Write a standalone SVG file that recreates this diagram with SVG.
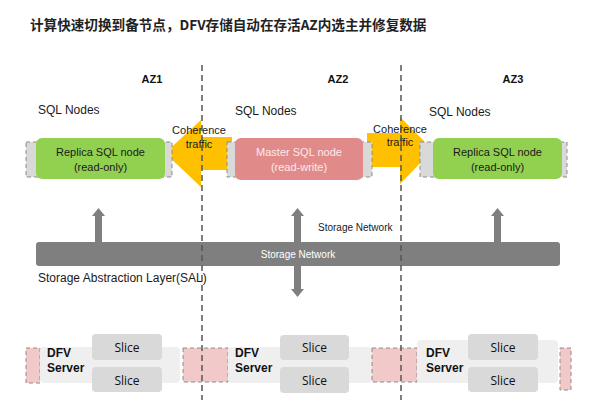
<svg xmlns="http://www.w3.org/2000/svg" width="600" height="400" viewBox="0 0 600 400">
<style>
.t{font-family:"Liberation Sans",Arial,sans-serif;fill:#1a1a1a}
.az{font-family:"Liberation Sans",Arial,sans-serif;font-weight:bold;font-size:11px;fill:#111;text-anchor:middle}
.sql{font-size:12px}
.nodet{font-size:11px;text-anchor:middle}
.coh{font-size:11px;text-anchor:middle}
.bk{fill:#d9d9d9;stroke:#8c8c8c;stroke-width:1;stroke-dasharray:4 3}
.pk{fill:#f2c9c9;stroke:#8c8c8c;stroke-width:1;stroke-dasharray:4 3}
.green{fill:#92d050}
.pnl{fill:#efefef}
.slice{fill:#d9d9d9}
.st{font-family:"Open Sans","Liberation Sans",sans-serif;font-size:12px;fill:#111;text-anchor:middle}
.dfv{font-family:"Liberation Sans",Arial,sans-serif;font-size:12px;font-weight:bold;fill:#111}
.yel{fill:#ffc000}
.gar{fill:#7f7f7f}
.vd{stroke:#555;stroke-width:1.5;stroke-dasharray:6 4;fill:none}
</style>
<rect width="600" height="400" fill="#fff"/>
<text x="30" y="30" font-family="'Noto Sans CJK SC','Liberation Sans',sans-serif" font-weight="bold" font-size="13.6" fill="#222">计算快速切换到备节点，DFV存储自动在存活AZ内选主并修复数据</text>

<text class="az" x="152" y="83">AZ1</text>
<text class="az" x="338" y="83">AZ2</text>
<text class="az" x="513" y="83">AZ3</text>

<text class="t sql" x="38" y="114">SQL Nodes</text>
<text class="t sql" x="235" y="115">SQL Nodes</text>
<text class="t sql" x="429" y="116">SQL Nodes</text>

<g id="connectors">
  <polygon class="yel" points="165,153 201,120 201,137 232,137 232,170 201,170 201,187"/>
  <polygon class="yel" points="367,133 400,133 400,117 433,150 400,184 400,167 367,167"/>
  <text class="t coh" x="199" y="134">Coherence</text>
  <text class="t coh" x="199" y="148">traffic</text>
  <text class="t coh" x="400" y="133">Coherence</text>
  <text class="t coh" x="400" y="146">traffic</text>
  <polygon class="gar" points="98.5,208 105,216 102,216 102,243 95,243 95,216 92,216"/>
  <polygon class="gar" points="497.5,208 504,216 501,216 501,243 494,243 494,216 491,216"/>
  <polygon class="gar" points="297.5,208 304,216 301,216 301,289 304,289 297.5,297 291,289 294,289 294,216 291,216"/>
</g>

<g id="replica1">
  <rect class="bk" x="26" y="142" width="146" height="35"/>
  <rect class="green" x="36" y="138" width="129" height="41" rx="6"/>
  <text class="t nodet" x="100.5" y="156">Replica SQL node</text>
  <text class="t nodet" x="100.5" y="171">(read-only)</text>
</g>
<g id="master">
  <rect class="bk" x="227" y="142" width="145" height="35"/>
  <rect x="235" y="138" width="128" height="42" rx="6" fill="#e08a8a"/>
  <text class="nodet" x="299" y="156" font-family="'Liberation Sans',Arial,sans-serif" fill="#fbeaea">Master SQL node</text>
  <text class="nodet" x="299" y="171" font-family="'Liberation Sans',Arial,sans-serif" fill="#fbeaea">(read-write)</text>
</g>
<g id="replica3">
  <rect class="bk" x="420" y="142" width="147" height="35"/>
  <rect class="green" x="433" y="138" width="129" height="41" rx="6"/>
  <text class="t nodet" x="497.5" y="156">Replica SQL node</text>
  <text class="t nodet" x="497.5" y="171">(read-only)</text>
</g>

<g id="storage-network">
  <rect class="gar" x="36" y="242" width="524" height="24" rx="3"/>
  <rect class="gar" x="294" y="240" width="7" height="28"/>
  <text x="298" y="258" font-family="'Liberation Sans',Arial,sans-serif" font-size="10" fill="#fff" text-anchor="middle">Storage Network</text>
</g>
<text class="t" x="318" y="231" font-size="10">Storage Network</text>
<text class="t" x="38" y="282" font-size="12">Storage Abstraction Layer(SAL)</text>

<g id="dfv1">
  <rect class="pk" x="26" y="348" width="14" height="35"/>
  <rect class="pnl" x="40" y="347" width="140" height="36" rx="4"/>
  <rect class="slice" x="92" y="334" width="70" height="26" rx="4"/>
  <rect class="slice" x="92" y="367" width="70" height="25" rx="4"/>
  <text class="st" x="127" y="352">Slice</text>
  <text class="st" x="127" y="385">Slice</text>
  <text class="dfv" x="47" y="357">DFV</text>
  <text class="dfv" x="47" y="371.5">Server</text>
</g>
<g id="dfv2">
  <rect class="pk" x="183" y="348" width="45" height="34"/>
  <rect class="pnl" x="228" y="347" width="144" height="36" rx="4"/>
  <rect class="slice" x="280" y="335" width="69" height="25" rx="4"/>
  <rect class="slice" x="280" y="367" width="69" height="26" rx="4"/>
  <text class="st" x="314.5" y="352">Slice</text>
  <text class="st" x="314.5" y="385">Slice</text>
  <text class="dfv" x="235" y="357">DFV</text>
  <text class="dfv" x="235" y="371.5">Server</text>
</g>
<g id="dfv3">
  <rect class="pk" x="372" y="348" width="45" height="34"/>
  <rect class="pnl" x="417" y="340" width="141" height="43" rx="4"/>
  <rect class="slice" x="468" y="334" width="70" height="26" rx="4"/>
  <rect class="slice" x="468" y="367" width="70" height="25" rx="4"/>
  <text class="st" x="503" y="352">Slice</text>
  <text class="st" x="503" y="385">Slice</text>
  <text class="dfv" x="426" y="357">DFV</text>
  <text class="dfv" x="426" y="371.5">Server</text>
  <rect class="pk" x="560" y="348" width="11" height="42"/>
</g>

<line class="vd" x1="202" y1="65" x2="202" y2="400"/>
<line class="vd" x1="401" y1="65" x2="401" y2="400"/>
</svg>
